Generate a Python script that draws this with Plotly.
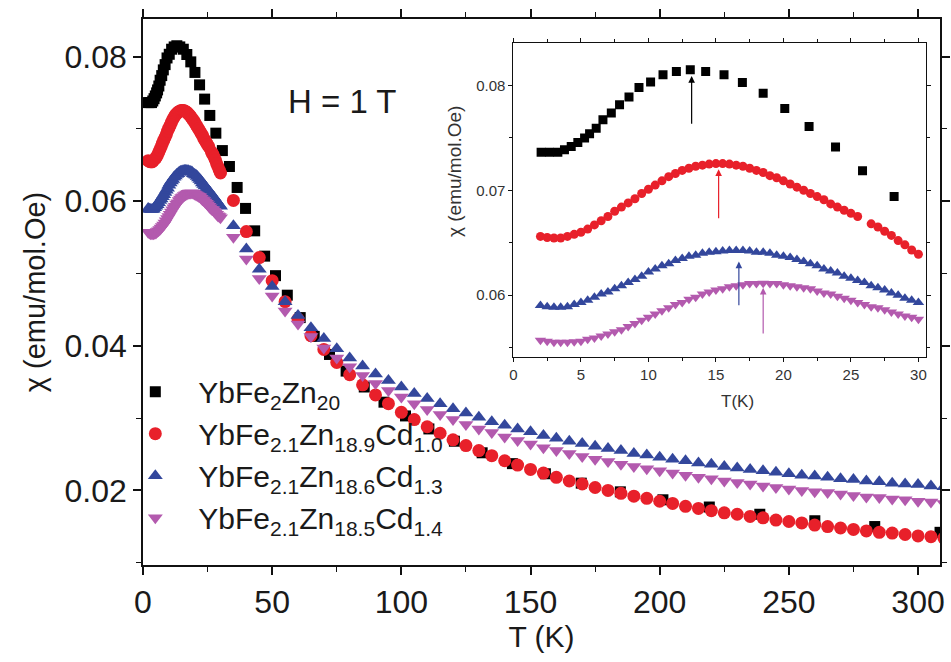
import plotly.graph_objects as go

# ---------------- data ----------------
# YbFe2Zn20 (black squares)
black_T = [2.05, 2.67, 3.29, 3.78, 4.28, 4.77, 5.27, 5.64, 6.13, 6.63, 7.25, 7.86, 8.56, 9.30,
           10.16, 11.08, 12.07, 13.10, 14.24, 15.60, 16.96, 18.50, 20.10, 21.90, 23.86, 25.86,
           28.20, 30.72, 33.46, 36.44, 39.69, 43.23, 47.09, 51.29, 55.86, 60.85, 66.27, 72.19,
           78.62, 85.64, 93.28, 101.6, 110.66, 120.53, 131.28, 142.99, 155.75, 169.64, 184.77,
           201.25, 219.2, 238.75, 260.05, 283.24, 308.51]
black_chi = [0.07364, 0.07364, 0.07364, 0.07386, 0.07418, 0.07456, 0.07498, 0.07539, 0.07593,
             0.07673, 0.07737, 0.07816, 0.07889, 0.07981, 0.08032, 0.08102, 0.08134, 0.08150,
             0.08134, 0.08102, 0.08029, 0.07927, 0.07781, 0.07609, 0.07412, 0.07186, 0.06941,
             0.0670, 0.0648, 0.0619, 0.0590, 0.0559, 0.0524, 0.0497, 0.0470, 0.0439, 0.0413,
             0.0388, 0.0365, 0.0343, 0.0322, 0.0303, 0.0285, 0.0268, 0.0252, 0.0237, 0.0223,
             0.0210, 0.0198, 0.0187, 0.0177, 0.0167, 0.0158, 0.0150, 0.0142]

# YbFe2.1Zn18.9Cd1.0 (red circles)
red_T = [2.0, 2.5, 3.0, 3.5, 4.0, 4.5, 5.0, 5.5, 6.0, 6.5, 7.0, 7.5, 8.0, 8.5, 9.0, 9.5, 10.0,
         10.5, 11.0, 11.5, 12.0, 12.5, 13.0, 13.5, 14.0, 14.5, 15.0, 15.5, 16.0, 16.5, 17.0,
         17.5, 18.0, 18.5, 19.0, 19.5, 20.0, 20.5, 21.0, 21.5, 22.0, 22.5, 23.0, 23.5, 24.0,
         24.5, 25.0, 25.5, 26.5, 27.0, 27.5, 28.0, 28.5, 29.0, 29.5, 30.0,
         35, 40, 45, 50, 55, 60, 65, 70, 75, 80, 85, 90, 95, 100, 105, 110, 115, 120, 125,
         130, 135, 140, 145, 150, 155, 160, 165, 170, 175, 180, 185, 190, 195, 200, 205, 210,
         215, 220, 225, 230, 235, 240, 245, 250, 255, 260, 265, 270, 275, 280, 285, 290, 295,
         300, 305, 310]
red_chi = [0.0656, 0.0655, 0.06545, 0.06545, 0.0656, 0.0658, 0.0660, 0.0663, 0.0667, 0.0671,
           0.0675, 0.0680, 0.0684, 0.0688, 0.0692, 0.0697, 0.0701, 0.0705, 0.0709, 0.0713,
           0.0716, 0.0719, 0.0721, 0.0723, 0.0724, 0.0725, 0.07255, 0.07255, 0.0725, 0.0724,
           0.0723, 0.0721, 0.0719, 0.0717, 0.0714, 0.0712, 0.0709, 0.0706, 0.0703, 0.0700,
           0.0697, 0.0694, 0.0691, 0.0687, 0.0684, 0.0681, 0.0678, 0.0675, 0.0668, 0.0665,
           0.0661, 0.0657, 0.0652, 0.0648, 0.0643, 0.0639,
           0.0601, 0.0558, 0.0522, 0.0490, 0.0461, 0.0437, 0.0414, 0.0395, 0.0377, 0.0360,
           0.0346, 0.0332, 0.0320, 0.0308, 0.0298, 0.0288, 0.0279, 0.0270, 0.0262, 0.0255,
           0.0248, 0.0241, 0.0235, 0.0229, 0.0224, 0.0218, 0.0213, 0.0209, 0.0204, 0.0200,
           0.0196, 0.0192, 0.0189, 0.0185, 0.0182, 0.0178, 0.0175, 0.0172, 0.0169, 0.0167,
           0.0164, 0.0162, 0.0159, 0.0157, 0.0155, 0.0152, 0.0150, 0.0148, 0.0146, 0.0144,
           0.0142, 0.0141, 0.0139, 0.0137, 0.0136, 0.0134]

# shared temperature grid for the two triangle series
tri_T = [2.0, 2.5, 3.0, 3.5, 4.0, 4.5, 5.0, 5.5, 6.0, 6.5, 7.0, 7.5, 8.0, 8.5, 9.0, 9.5, 10.0,
         10.5, 11.0, 11.5, 12.0, 12.5, 13.0, 13.5, 14.0, 14.5, 15.0, 15.5, 16.0, 16.5, 17.0,
         17.5, 18.0, 18.5, 19.0, 19.5, 20.0, 20.5, 21.0, 21.5, 22.0, 22.5, 23.0, 23.5, 24.0,
         24.5, 25.0, 25.5, 26.0, 26.5, 27.0, 27.5, 28.0, 28.5, 29.0, 29.5, 30.0,
         35, 40, 45, 50, 55, 60, 65, 70, 75, 80, 85, 90, 95, 100, 105, 110, 115, 120, 125,
         130, 135, 140, 145, 150, 155, 160, 165, 170, 175, 180, 185, 190, 195, 200, 205, 210,
         215, 220, 225, 230, 235, 240, 245, 250, 255, 260, 265, 270, 275, 280, 285, 290, 295,
         300, 305, 310]

# YbFe2.1Zn18.6Cd1.3 (blue up-triangles)
blue_chi = [0.0590, 0.0589, 0.05885, 0.05885, 0.0589, 0.0591, 0.0593, 0.0595, 0.0598, 0.0601,
            0.0603, 0.0606, 0.0609, 0.0612, 0.0615, 0.0618, 0.0622, 0.0625, 0.0628, 0.0630,
            0.0633, 0.0635, 0.0637, 0.0638, 0.0640, 0.0641, 0.06415, 0.0642, 0.06425, 0.06425,
            0.06425, 0.0642, 0.0641, 0.0641, 0.0640, 0.0638, 0.0637, 0.0636, 0.0634, 0.0632,
            0.0630, 0.0628, 0.0625, 0.0623, 0.0621, 0.0618, 0.0616, 0.0614, 0.0612, 0.0609,
            0.0607, 0.0605, 0.0602, 0.0600, 0.0597, 0.0595, 0.0593,
            0.0566, 0.0534, 0.0506, 0.0482, 0.0461, 0.0442, 0.0425, 0.0410, 0.0396, 0.0383,
            0.0372, 0.0361, 0.0352, 0.0343, 0.0334, 0.0327, 0.0320, 0.0313, 0.0307, 0.0301,
            0.0295, 0.0290, 0.0285, 0.0281, 0.0276, 0.0272, 0.0268, 0.0265, 0.0261, 0.0258,
            0.0255, 0.0251, 0.0249, 0.0246, 0.0243, 0.0241, 0.0238, 0.0236, 0.0233, 0.0231,
            0.0229, 0.0227, 0.0225, 0.0223, 0.0221, 0.0220, 0.0218, 0.0216, 0.0215, 0.0213,
            0.0212, 0.0210, 0.0209, 0.0208, 0.0206, 0.0205]

# YbFe2.1Zn18.5Cd1.4 (pink down-triangles)
pink_chi = [0.0557, 0.0556, 0.0555, 0.0555, 0.0555, 0.05555, 0.0556, 0.0558, 0.0559, 0.0561,
            0.0563, 0.0565, 0.0567, 0.0570, 0.0573, 0.0576, 0.0579, 0.0582, 0.0585, 0.0588,
            0.0591, 0.0593, 0.0596, 0.0598, 0.0601, 0.0603, 0.0605, 0.0606, 0.0608, 0.0609,
            0.0610, 0.0611, 0.06112, 0.06114, 0.06112, 0.0611, 0.0610, 0.0609, 0.0608, 0.0607,
            0.0606, 0.0604, 0.0602, 0.0601, 0.0599, 0.0597, 0.0595, 0.0593, 0.0591, 0.0589,
            0.0588, 0.0586, 0.0584, 0.0582, 0.0580, 0.0579, 0.0577,
            0.0550, 0.0520, 0.0493, 0.0469, 0.0448, 0.0430, 0.0413, 0.0397, 0.0383, 0.0371,
            0.0359, 0.0348, 0.0338, 0.0329, 0.0320, 0.0312, 0.0305, 0.0298, 0.0291, 0.0285,
            0.0280, 0.0274, 0.0269, 0.0264, 0.0259, 0.0255, 0.0251, 0.0247, 0.0243, 0.0240,
            0.0236, 0.0233, 0.0230, 0.0227, 0.0224, 0.0221, 0.0218, 0.0216, 0.0213, 0.0211,
            0.0209, 0.0206, 0.0204, 0.0202, 0.0200, 0.0198, 0.0197, 0.0195, 0.0193, 0.0191,
            0.0190, 0.0188, 0.0187, 0.0185, 0.0184, 0.0182]

series_names = ["YbFe<sub>2</sub>Zn<sub>20</sub>",
                "YbFe<sub>2.1</sub>Zn<sub>18.9</sub>Cd<sub>1.0</sub>",
                "YbFe<sub>2.1</sub>Zn<sub>18.6</sub>Cd<sub>1.3</sub>",
                "YbFe<sub>2.1</sub>Zn<sub>18.5</sub>Cd<sub>1.4</sub>"]

# peak arrows in the inset: (T, chi start, chi end)
arrow_T = [13.2, 15.2, 16.7, 18.5]
arrow_start = [0.0762, 0.0672, 0.0589, 0.0562]
arrow_end = [0.0809, 0.0720, 0.0632, 0.0607]

# ---------------- style ----------------
colors = ["#000000", "#e8202a", "#33479c", "#b35aae"]
symbols = ["square", "circle", "triangle-up", "triangle-down"]
main_sizes = [11, 13, 13, 13]
inset_sizes = [9, 9, 10, 10]
FONT = "Liberation Sans, Arial, sans-serif"

series = [(black_T, black_chi), (red_T, red_chi), (tri_T, blue_chi), (tri_T, pink_chi)]

fig = go.Figure()

for i, (T, chi) in enumerate(series):
    fig.add_trace(go.Scatter(
        x=T, y=chi, mode="markers", name=series_names[i],
        legendgroup=f"g{i}",
        marker=dict(symbol=symbols[i], size=main_sizes[i], color=colors[i], line=dict(width=0)),
        xaxis="x", yaxis="y"))

for i, (T, chi) in enumerate(series):
    sel = [(t, c) for t, c in zip(T, chi) if t <= 30.2]
    fig.add_trace(go.Scatter(
        x=[s[0] for s in sel], y=[s[1] for s in sel], mode="markers", showlegend=False,
        marker=dict(symbol=symbols[i], size=inset_sizes[i], color=colors[i], line=dict(width=0)),
        xaxis="x2", yaxis="y2"))

for i in range(4):
    fig.add_annotation(x=arrow_T[i], y=arrow_end[i], ax=arrow_T[i], ay=arrow_start[i],
                       xref="x2", yref="y2", axref="x2", ayref="y2",
                       showarrow=True, arrowhead=2, arrowsize=1.1, arrowwidth=1.2,
                       arrowcolor=colors[i], text="")

fig.add_annotation(x=0.25, y=0.849, xref="paper", yref="paper", text="H = 1 T",
                   xanchor="center", yanchor="middle",
                   showarrow=False, font=dict(size=33, color="#1a1a1a", family=FONT))

# inset axis titles
fig.add_annotation(x=0.7454, y=0.2987, xref="paper", yref="paper", text="T(K)",
                   xanchor="center", yanchor="middle", showarrow=False,
                   font=dict(size=17, color="#333", family=FONT))
fig.add_annotation(x=0.3917, y=0.7202, xref="paper", yref="paper", text="χ (emu/mol.Oe)",
                   textangle=-90, xanchor="center", yanchor="middle", showarrow=False,
                   font=dict(size=19, color="#333", family=FONT))

axis_common = dict(showgrid=False, zeroline=False, showline=True, linecolor="#111",
                   mirror="ticks", ticks="outside", tickcolor="#111", automargin=False)

fig.update_layout(
    width=951, height=662,
    margin=dict(l=143, r=11, t=19, b=97),
    paper_bgcolor="white", plot_bgcolor="white",
    font=dict(family=FONT, color="#1a1a1a"),
    xaxis=dict(**axis_common, range=[0, 308.5], dtick=50, tick0=0, linewidth=1.5,
               ticklen=8, tickwidth=1.5,
               minor=dict(dtick=25, ticklen=5, tickwidth=1.2, ticks="outside", tickcolor="#111"),
               tickfont=dict(size=32),
               title=dict(text="T (K)", font=dict(size=30), standoff=6),
               domain=[0, 1], anchor="y"),
    yaxis=dict(**axis_common, range=[0.00968, 0.0852], dtick=0.02, tick0=0, linewidth=1.5,
               ticklen=8, tickwidth=1.5, tickformat=".2f",
               minor=dict(dtick=0.01, ticklen=5, tickwidth=1.2, ticks="outside", tickcolor="#111"),
               tickfont=dict(size=32),
               title=dict(text="χ (emu/mol.Oe)", font=dict(size=29), standoff=10),
               domain=[0, 1], anchor="x"),
    xaxis2=dict(**axis_common, range=[0, 30.56], dtick=5, tick0=0, linewidth=1,
                ticklen=4, tickwidth=1,
                minor=dict(dtick=2.5, ticklen=3, tickwidth=1, ticks="outside", tickcolor="#111"),
                tickfont=dict(size=15, color="#333"),
                domain=[0.4648, 0.9824], anchor="y2"),
    yaxis2=dict(**axis_common, range=[0.05408, 0.08405], dtick=0.01, tick0=0, linewidth=1,
                ticklen=4, tickwidth=1, tickformat=".2f",
                minor=dict(dtick=0.005, ticklen=3, tickwidth=1, ticks="outside", tickcolor="#111"),
                tickfont=dict(size=15, color="#333"),
                domain=[0.3806, 0.956], anchor="x2"),
    legend=dict(x=-0.0385, y=0.365, xanchor="left", yanchor="top", bgcolor="rgba(0,0,0,0)",
                font=dict(size=30, color="#1a1a1a"), itemwidth=76, tracegroupgap=10,
                traceorder="normal"),
    showlegend=True,
)

fig.write_html("out.html")
